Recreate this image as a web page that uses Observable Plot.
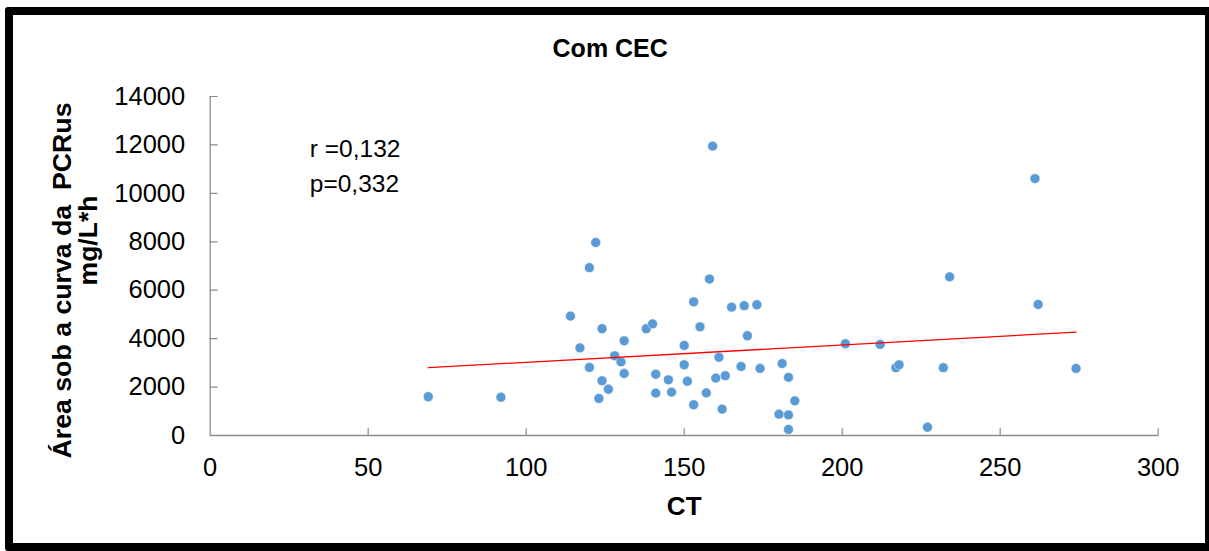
<!DOCTYPE html>
<html>
<head>
<meta charset="utf-8">
<script src="https://cdn.jsdelivr.net/npm/d3@7"></script>
<script src="https://cdn.jsdelivr.net/npm/@observablehq/plot@0.6"></script>
<style>
html, body { margin: 0; padding: 0; background: #fff; overflow: hidden; }
#wrap { position: relative; width: 1209px; height: 551px; overflow: hidden; }
#chart { position: absolute; left: 0; top: 0; }
#frame { position: absolute; left: 5px; top: 7px; width: 1208px; height: 544px; box-sizing: border-box; border: 8px solid #000; border-radius: 3px; pointer-events: none; }
svg text { white-space: pre; }
</style>
</head>
<body>
<div id="wrap"><div id="chart"></div><div id="frame"></div></div>
<script>
// ---- Data ----
const ctValues = [69, 92, 114, 117, 120, 120, 122, 124, 123, 124, 126, 128, 130, 131, 131,
  138, 140, 141, 141, 145, 146, 150, 150, 151, 153, 153, 155, 157, 158, 159,
  160, 161, 162, 163, 165, 168, 169, 170, 173, 174, 181, 180, 183, 183, 183,
  185, 201, 212, 217, 218, 227, 232, 234, 261, 262, 274];
const aucValues = [1600, 1580, 4930, 3620, 2810, 6930, 7970, 2260, 1530, 4410, 1910, 3290, 3040, 3910, 2560,
  4410, 4610, 2530, 1750, 2300, 1790, 3720, 2920, 2240, 5520, 1270, 4490, 1760, 6460, 11950,
  2370, 3230, 1090, 2470, 5300, 2850, 5360, 4120, 5400, 2770, 2970, 880, 2400, 850, 250,
  1430, 3790, 3760, 2800, 2920, 340, 2800, 6550, 10610, 5410, 2770];
const trendCT = [69, 274];
const trendAUC = [2800, 4270];
const xTicks = [0, 50, 100, 150, 200, 250, 300];
const yTicks = [0, 2000, 4000, 6000, 8000, 10000, 12000, 14000];
const titleText = "Com CEC";
const xLabel = "CT";
const yLabelLines = ["Área sob a curva da  PCRus", "mg/L*h"];
const statsLines = ["r =0,132", "p=0,332"];

// ---- Build ----
const points = ctValues.map((x, i) => ({x, y: aucValues[i]}));
const trend = trendCT.map((x, i) => ({x, y: trendAUC[i]}));
const tickShape = {draw(ctx, l) { ctx.moveTo(0, 0); ctx.lineTo(0, -l); }};
const axisGray = "#8c8c8c";
const font = "'Liberation Sans', Arial, sans-serif";

const chart = Plot.plot({
  width: 1209,
  height: 551,
  marginLeft: 209.7,
  marginRight: 51.3,
  marginTop: 96,
  marginBottom: 116,
  style: {fontFamily: font, background: "transparent", color: "#000", overflow: "visible"},
  x: {domain: [0, 300]},
  y: {domain: [0, 14000]},
  marks: [
    Plot.axisY(yTicks, {tickSize: 0, tickPadding: 25, fontSize: 25.5, label: null, tickFormat: d => String(d)}),
    Plot.axisX(xTicks, {tickSize: 0, tickPadding: 22, fontSize: 25.5, label: null, tickFormat: d => String(d)}),
    Plot.ruleX([0], {stroke: axisGray, strokeWidth: 1.3}),
    Plot.ruleY([0], {stroke: axisGray, strokeWidth: 1.6}),
    Plot.vector(yTicks.slice(1), {x: 0, y: d => d, length: 7, rotate: 90, anchor: "start", shape: tickShape, stroke: axisGray, strokeWidth: 1.2}),
    Plot.vector(xTicks.slice(1), {x: d => d, y: 0, length: 7, rotate: 0, anchor: "start", shape: tickShape, stroke: axisGray, strokeWidth: 1.2}),
    Plot.dot(points, {x: "x", y: "y", r: 4.9, fill: "#5B9BD5", stroke: "#ffffff", strokeWidth: 0.4}),
    Plot.line(trend, {x: "x", y: "y", stroke: "#ff0000", strokeWidth: 1.3}),
    Plot.text([titleText], {text: d => d, frameAnchor: "top", dx: -74, dy: -39.3, lineAnchor: "bottom", fontSize: 25, fontWeight: "bold"}),
    Plot.text([xLabel], {text: d => d, frameAnchor: "bottom", dx: 0, dy: 79, lineAnchor: "bottom", fontSize: 26, fontWeight: "bold"}),
    Plot.text([yLabelLines[0]], {text: d => d, frameAnchor: "left", rotate: -90, dx: -139.7, dy: 14.5, lineAnchor: "bottom", textAnchor: "middle", fontSize: 26.7, fontWeight: "bold"}),
    Plot.text([yLabelLines[1]], {text: d => d, frameAnchor: "left", rotate: -90, dx: -113.2, dy: -25.5, lineAnchor: "bottom", textAnchor: "middle", fontSize: 26.5, fontWeight: "bold"}),
    Plot.text([statsLines[0]], {text: d => d, frameAnchor: "top-left", dx: 99.6, dy: 60, lineAnchor: "bottom", textAnchor: "start", fontSize: 24.5}),
    Plot.text([statsLines[1]], {text: d => d, frameAnchor: "top-left", dx: 99.6, dy: 95, lineAnchor: "bottom", textAnchor: "start", fontSize: 24.5})
  ]
});
document.getElementById("chart").appendChild(chart);
</script>
</body>
</html>
